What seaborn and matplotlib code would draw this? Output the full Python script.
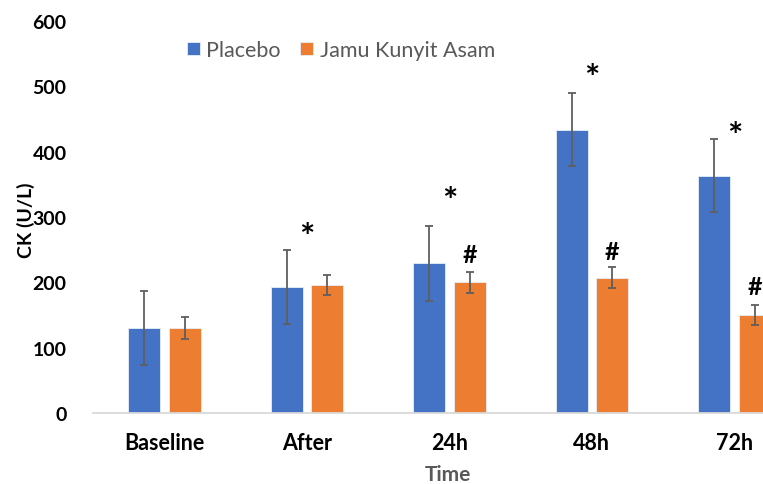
import pandas as pd
import matplotlib
matplotlib.use('Agg')
import matplotlib.pyplot as plt
import seaborn as sns

# values
times = ['Baseline', 'After', '24h', '48h', '72h']
placebo = [130, 193, 229, 434, 363]
placebo_sd = [57, 56, 57, 56, 56]
jamu = [130, 196, 200, 207, 150]
jamu_sd = [17, 15, 16, 16, 15]
# significance marks: '*' over placebo, '#' over jamu (y in U/L, None = no mark)
star_y = [None, 282, 338, 526, 438]
hash_y = [None, None, 243, 248, 193]

groups = ['Placebo', 'Jamu Kunyit Asam']
colors = ['#4472C4', '#ED7D31']

df = pd.DataFrame({
    'Time': times * 2,
    'CK': placebo + jamu,
    'Group': [groups[0]] * len(times) + [groups[1]] * len(times),
})

sns.set_style('white')
plt.rcParams['font.family'] = ['Lato', 'DejaVu Sans']

fig = plt.figure(figsize=(7.63, 4.85), dpi=100)
ax = fig.add_axes([0.1219, 0.1464, 0.934, 0.808])

sns.barplot(data=df, x='Time', y='CK', hue='Group', palette=colors,
            saturation=1, width=0.568, gap=0.21, errorbar=None,
            edgecolor='#E8EEF8', linewidth=0.6, ax=ax)

# error bars (SD) at the centres of the bars seaborn drew
for cont, sds in zip(ax.containers, [placebo_sd, jamu_sd]):
    xs = [p.get_x() + p.get_width() / 2 for p in cont.patches]
    ys = [p.get_height() for p in cont.patches]
    ax.errorbar(xs, ys, yerr=sds, fmt='none', ecolor='#5F5F5F',
                elinewidth=1.3, capsize=3, capthick=1.3, zorder=5)

# annotation marks
jamu_x = [p.get_x() + p.get_width() / 2 for p in ax.containers[1].patches]
for i, y in enumerate(star_y):
    if y is not None:
        ax.text(i, y - 14, '*', ha='center', va='center', fontsize=26,
                fontweight='bold', color='black')
for i, y in enumerate(hash_y):
    if y is not None:
        ax.text(jamu_x[i], y, '#', ha='center', va='center', fontsize=18,
                fontweight='bold', color='black')

ax.set_ylim(0, 600)
ax.set_yticks([0, 100, 200, 300, 400, 500, 600])
ax.set_xlim(-0.5, 4.5)
ax.tick_params(axis='both', length=0, colors='black')
ax.tick_params(axis='x', pad=14, labelsize=15.5)
ax.tick_params(axis='y', pad=19, labelsize=14)
for lab in ax.get_xticklabels() + ax.get_yticklabels():
    lab.set_fontweight('bold')

ax.set_ylabel('CK (U/L)', fontsize=14, fontweight='bold', color='black')
ax.yaxis.set_label_coords(-0.082, 0.495)
ax.set_xlabel('Time', fontsize=15, fontweight='bold', color='#595959')
ax.xaxis.set_label_coords(0.498, -0.13)

for s in ['top', 'right', 'left']:
    ax.spines[s].set_visible(False)
ax.spines['bottom'].set_color('#D9D9D9')
ax.spines['bottom'].set_linewidth(1.3)

handles, labels = ax.get_legend_handles_labels()
ax.legend(handles, labels, loc='center left', bbox_to_anchor=(0.245, 0.895),
          bbox_transform=fig.transFigure, ncol=2, frameon=False,
          fontsize=15.5, labelcolor='#595959', handlelength=0.6,
          handleheight=0.6, handletextpad=0.3, columnspacing=0.9,
          borderpad=0, borderaxespad=0)

fig.savefig('out.png', dpi=100)
